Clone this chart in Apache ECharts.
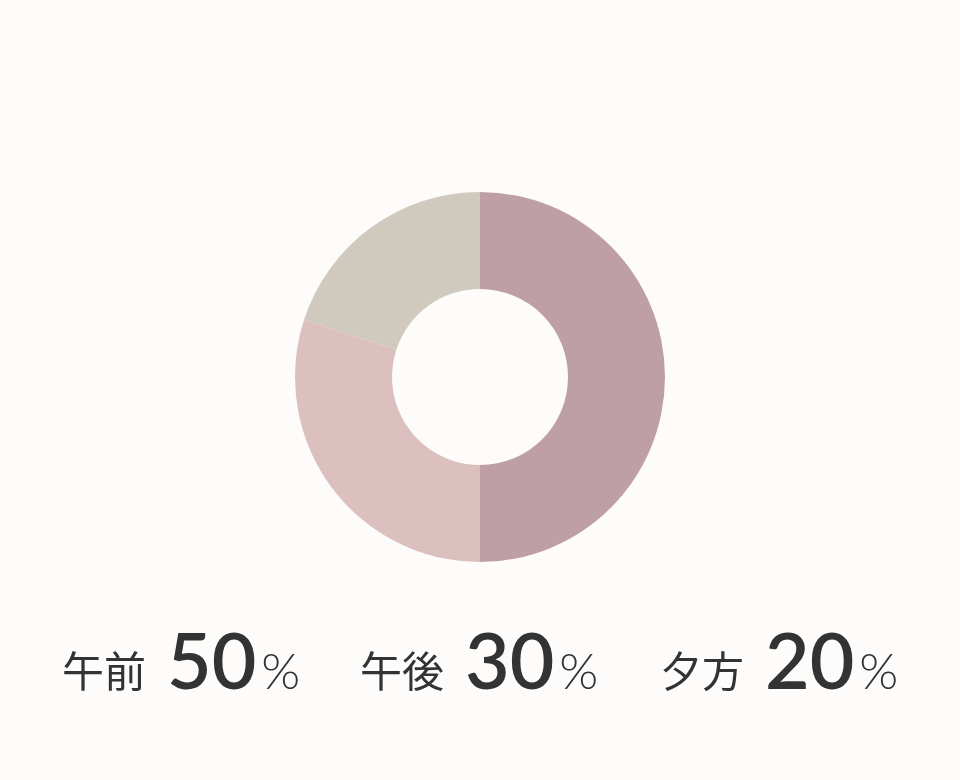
<!DOCTYPE html>
<html><head><meta charset="utf-8">
<script src="https://cdn.jsdelivr.net/npm/echarts@6/dist/echarts.min.js"></script>
<style>html,body{margin:0;padding:0;background:#fdfcfb;}#c{width:960px;height:780px;}</style>
</head><body><div id="c"></div>
<script>
const categories = ['午前', '午後', '夕方'];
const values = [50, 30, 20];
const unit = '%';
const colors = ['#bf9fa7', '#dbc0bf', '#cfc9be'];

const chart = echarts.init(document.getElementById('c'));
const kSize = 42, nSize = 77, pSize = 50;
const kanjiFont = '400 ' + kSize + 'px "Noto Sans CJK JP"';
const numFont = '600 ' + nSize + 'px Lato';
const pctFont = '300 ' + pSize + 'px Lato';
const ctx = document.createElement('canvas').getContext('2d');
function w(font, t) { ctx.font = font; return ctx.measureText(t).width; }

const groupX = [62, 360, 660];
const baseY = 690;
const graphics = [];
categories.forEach((c, i) => {
  let x = groupX[i];
  graphics.push({type: 'text', x: x, y: baseY - 0.95 * kSize, style: {text: c, font: kanjiFont, fill: '#333'}});
  x += w(kanjiFont, c) + 21;
  const v = String(values[i]);
  graphics.push({type: 'text', x: x, y: baseY - 0.84 * nSize, style: {text: v, font: numFont, fill: '#333'}});
  x += w(numFont, v) + 5;
  graphics.push({type: 'text', x: x, y: baseY - 0.84 * pSize, style: {text: unit, font: pctFont, fill: '#333'}});
});

chart.setOption({
  backgroundColor: '#fdfcfb',
  animation: false,
  graphic: graphics,
  series: [{
    type: 'pie',
    center: [480, 377],
    radius: [88, 185],
    startAngle: 90,
    clockwise: true,
    silent: true,
    label: {show: false},
    labelLine: {show: false},
    data: categories.map((c, i) => ({name: c, value: values[i], itemStyle: {color: colors[i]}}))
  }]
});
</script></body></html>
